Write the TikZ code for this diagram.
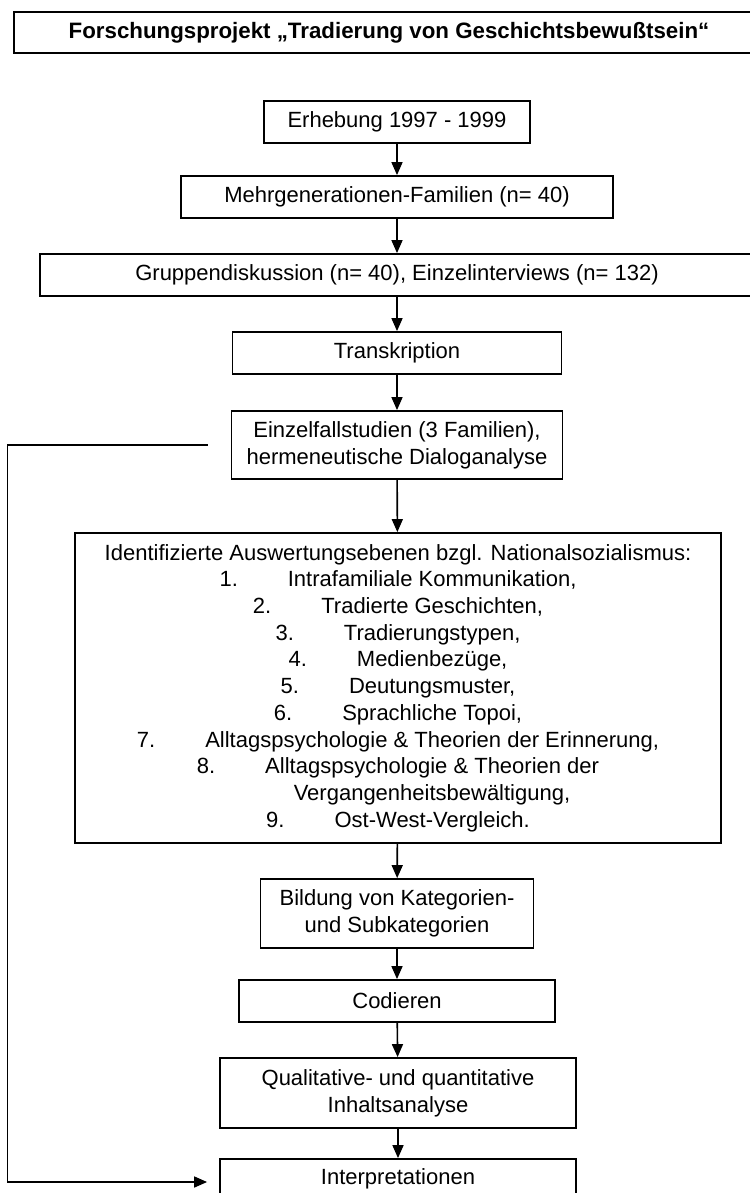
\documentclass[tikz,border=0pt]{standalone}
\usepackage{fontspec}
\setmainfont{Liberation Sans}
\usepackage{tikz}
\usetikzlibrary{arrows.meta, positioning}

\newcommand{\ebene}[2]{#1\hspace{50pt}#2}

\begin{document}
\begin{tikzpicture}[x=1pt, y=1pt,
  box/.style={draw, line width=1.8pt, inner sep=0pt, align=center,
    font=\fontsize{22}{27}\selectfont},
  pfeil/.style={line width=1.6pt, -{Triangle[width=11pt,length=13pt]}}]
\useasboundingbox (0,0) rectangle (749,-1193);
\node[box, minimum width=750, minimum height=41, font=\fontsize{22.3}{26}\selectfont\bfseries] (titel) at (389,-32.5)
  {Forschungsprojekt „Tradierung von Geschichtsbewußtsein“};
\node[box, minimum width=266, minimum height=42] (erhebung) at (397,-122) {Erhebung 1997 - 1999};
\node[box, minimum width=432, minimum height=42] (familien) at (397,-197) {Mehrgenerationen-Familien (n= 40)};
\node[box, minimum width=714, minimum height=42] (gruppe) at (397,-275)
  {Gruppendiskussion (n= 40), Einzelinterviews (n= 132)};
\node[box, minimum width=329, minimum height=42] (transkript) at (397,-353) {Transkription};
\node[box, minimum width=331, minimum height=68] (einzelfall) at (397,-445)
  {Einzelfallstudien (3 Familien),\\hermeneutische Dialoganalyse};
\node[box, minimum width=646, minimum height=310, font=\fontsize{22}{26.7}\selectfont] (ebenen) at (398,-688)
  {Identifizierte Auswertungsebenen bzgl. Nationalsozialismus:\\
   \ebene{1.}{Intrafamiliale Kommunikation,}\\
   \ebene{2.}{Tradierte Geschichten,}\\
   \ebene{3.}{Tradierungstypen,}\\
   \ebene{4.}{Medienbezüge,}\\
   \ebene{5.}{Deutungsmuster,}\\
   \ebene{6.}{Sprachliche Topoi,}\\
   \ebene{7.}{Alltagspsychologie \& Theorien der Erinnerung,}\\
   \ebene{8.}{Alltagspsychologie \& Theorien der}\\
   \hspace*{68pt}Vergangenheitsbewältigung,\\
   \ebene{9.}{Ost-West-Vergleich.}};
\node[box, minimum width=273, minimum height=69] (bildung) at (397,-913.5)
  {Bildung von Kategorien-\\und Subkategorien};
\node[box, minimum width=316, minimum height=42] (codieren) at (397,-1001) {Codieren};
\node[box, minimum width=356, minimum height=70] (inhalt) at (398,-1093)
  {Qualitative- und quantitative\\Inhaltsanalyse};
\node[box, minimum width=356, minimum height=40] (interpret) at (398,-1179) {Interpretationen};

% Ablauf
\draw[pfeil] (erhebung) -- (familien);
\draw[pfeil] (familien) -- (gruppe);
\draw[pfeil] (gruppe) -- (transkript);
\draw[pfeil] (transkript) -- (einzelfall);
\draw[pfeil] (einzelfall) -- (ebenen);
\draw[pfeil] (ebenen) -- (bildung);
\draw[pfeil] (bildung) -- (codieren);
\draw[pfeil] (codieren) -- (inhalt);
\draw[pfeil] (inhalt) -- (interpret);
% Rueckweg
\draw[pfeil] ([xshift=-23pt]einzelfall.west) -- ++(-200,0) |- ([xshift=-12pt,yshift=-3pt]interpret.west);
\end{tikzpicture}
\end{document}
